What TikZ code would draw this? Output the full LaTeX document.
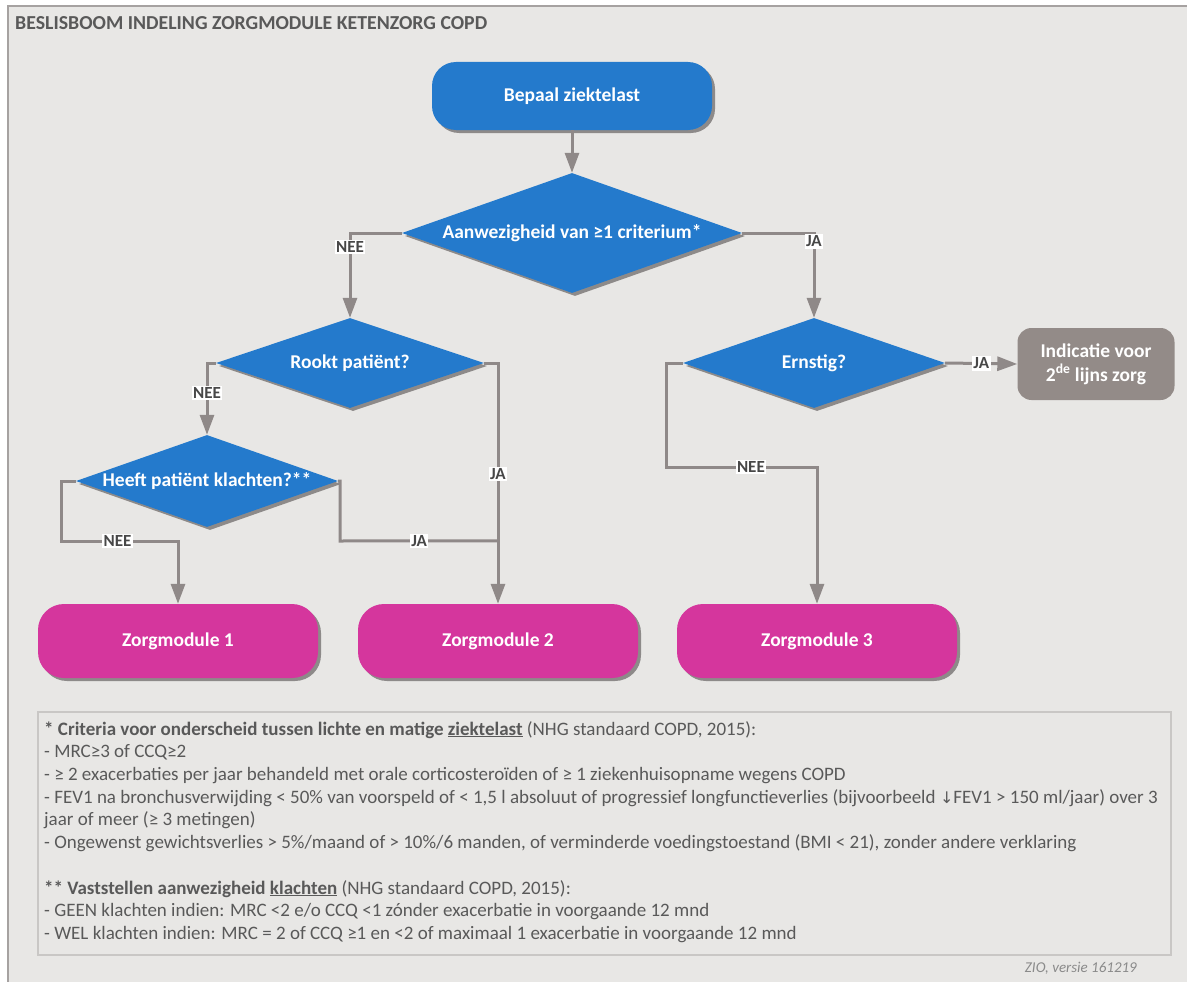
\documentclass[tikz,border=0pt]{standalone}
\usepackage{fontspec}
\setmainfont{Carlito}
\newfontfamily\arrowfont{DejaVu Sans}
\usetikzlibrary{shapes.geometric,arrows.meta,shadows,calc}
\definecolor{zbg}{HTML}{E8E7E5}
\definecolor{zframe}{HTML}{A6A2A1}
\definecolor{zbox}{HTML}{C9C7C5}
\definecolor{zblue}{HTML}{247ACC}
\definecolor{zpink}{HTML}{D5369D}
\definecolor{ztaupe}{HTML}{938B88}
\definecolor{zline}{HTML}{8F8988}
\definecolor{zshadow}{HTML}{8D8A89}
\definecolor{ztext}{HTML}{595959}
\definecolor{zlabel}{HTML}{474747}
\definecolor{zversion}{HTML}{8A8A8A}
\tikzstyle{castshadow}=[drop shadow={shadow xshift=3pt,shadow yshift=-3pt,fill=zshadow,opacity=1}]
\tikzstyle{boxfont}=[font=\bfseries\fontsize{19.5}{24}\selectfont]
\tikzstyle{startbox}=[rectangle, rounded corners=24pt, fill=zblue, text=white, boxfont, minimum width=280pt, minimum height=68pt, castshadow]
\tikzstyle{choice}=[diamond, fill=zblue, text=white, boxfont, inner sep=0pt, castshadow]
\tikzstyle{module}=[rectangle, rounded corners=26pt, fill=zpink, text=white, boxfont, minimum width=280pt, minimum height=74pt, castshadow]
\tikzstyle{referral}=[rectangle, rounded corners=14pt, fill=ztaupe, text=white, boxfont, align=center, minimum width=157pt, minimum height=72pt]
\tikzstyle{conn}=[draw=zline, line width=3pt, -{Triangle[length=20pt,width=14pt]}]
\tikzstyle{answer}=[fill=white, text=zlabel, font=\bfseries\fontsize{17}{17}\selectfont, inner sep=1.5pt]
\tikzstyle{note}=[text=ztext, font=\fontsize{19}{22.7}\selectfont, align=left, inner sep=0pt]

\begin{document}
\begin{tikzpicture}[x=1pt,y=-1pt]
	\useasboundingbox (0,0) rectangle (1187,982);
	\fill[white] (0,0) rectangle (1187,982);
	\fill[zbg] (8,6) rectangle (1187,982);
	\draw[zframe, line width=1.5pt] (8,982) -- (8,6) -- (1187,6);
	\node[anchor=base west, inner sep=0pt, text=ztext, font=\bfseries\fontsize{19.8}{22}\selectfont] (title) at (15,30) {BESLISBOOM INDELING ZORGMODULE KETENZORG COPD};

	\node[startbox] (start) at (572,96) {Bepaal ziektelast};
	\node[choice, aspect=2.83, minimum width=340pt, minimum height=120pt] (crit) at (572,233) {Aanwezigheid van ≥1 criterium*};
	\node[choice, aspect=2.98, minimum width=268pt, minimum height=90pt] (rookt) at (350,363) {Rookt patiënt?};
	\node[choice, aspect=2.85, minimum width=262pt, minimum height=92pt] (heeft) at (207,481) {Heeft patiënt klachten?**};
	\node[choice, aspect=2.9, minimum width=262pt, minimum height=90pt] (ernstig) at (814,363) {Ernstig?};
	\node[referral] (second) at (1096,364) {Indicatie voor\\2\textsuperscript{de} lijns zorg};
	\node[module] (zm1) at (178,641) {Zorgmodule 1};
	\node[module] (zm2) at (498,641) {Zorgmodule 2};
	\node[module] (zm3) at (817,641) {Zorgmodule 3};

	\draw[conn] (start.south) -- (crit.north);
	\draw[conn] (crit.west) -| (rookt.north) node[answer, pos=0.58] {NEE};
	\draw[conn] (crit.east) -| (ernstig.north) node[answer, pos=0.55] {JA};
	\draw[conn] (rookt.west) -| (heeft.north) node[answer, pos=0.71] {NEE};
	\draw[conn] (rookt.east) -| (zm2.north) node[answer, pos=0.73] {JA};
	\draw[conn] (heeft.west) -| ++(-14,60) -| (zm1.north) node[answer, pos=0.24] {NEE};
	\coordinate (jajoin) at ($(zm2.north)+(0,-63)$);
	\draw[conn, -] (heeft.east) -| ++(2,60) -- (jajoin) node[answer, pos=0.5] {JA};
	\draw[conn] (ernstig.west) -| ++(-16,104) -| (zm3.north) node[answer, pos=0.28] {NEE};
	\draw[conn] (ernstig.east) -- (second.west) node[answer, pos=0.5] {JA};

	\draw[zbox, line width=1.2pt] (38,712) rectangle (1171,955);
	\node[note, anchor=north west] (criteria) at (44,721) {%
		\textbf{* Criteria voor onderscheid tussen lichte en matige \underline{ziektelast}} (NHG standaard COPD, 2015):\\
		- MRC≥3 of CCQ≥2\\
		- ≥ 2 exacerbaties per jaar behandeld met orale corticosteroïden of ≥ 1 ziekenhuisopname wegens COPD\\
		- FEV1 na bronchusverwijding < 50\% van voorspeld of < 1,5 l absoluut of progressief longfunctieverlies (bijvoorbeeld {\arrowfont\fontsize{16}{16}\selectfont ↓}FEV1 > 150 ml/jaar) over 3\\
		jaar of meer (≥ 3 metingen)\\
		- Ongewenst gewichtsverlies > 5\%/maand of > 10\%/6 manden, of verminderde voedingstoestand (BMI < 21), zonder andere verklaring\\[22.7pt]
		\textbf{** Vaststellen aanwezigheid \underline{klachten}} (NHG standaard COPD, 2015):\\
		- GEEN klachten indien: MRC <2 e/o CCQ <1 zónder exacerbatie in voorgaande 12 mnd\\
		- WEL klachten indien: MRC = 2 of CCQ ≥1 en <2 of maximaal 1 exacerbatie in voorgaande 12 mnd};
	\node[anchor=base east, inner sep=0pt, text=zversion, font=\itshape\fontsize{15}{18}\selectfont] (version) at (1137,972) {ZIO, versie 161219};
\end{tikzpicture}
\end{document}
